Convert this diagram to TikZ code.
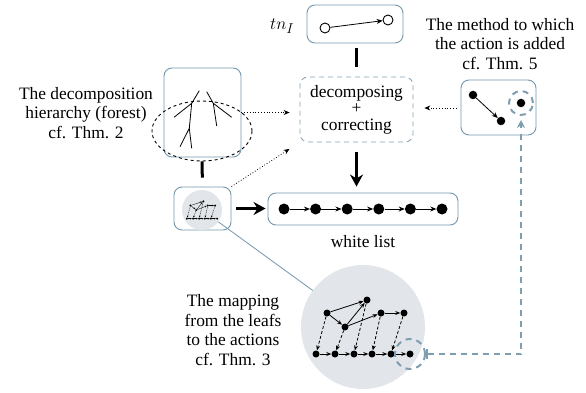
\documentclass[tikz,border=0pt]{standalone}
\usepackage{fontspec}
\setmainfont{Liberation Serif}
\usetikzlibrary{arrows.meta,shapes.geometric}
\definecolor{boxc}{RGB}{115,150,172}
\definecolor{fillc}{RGB}{226,230,234}
\definecolor{dashc}{RGB}{128,158,178}
\newcommand\mymapping[1]{%
  \node[mdot] (#1a) at (-36,-14) {};
  \node[mdot] (#1b) at (4,-27) {};
  \node[mdot] (#1c) at (-18,0) {};
  \node[mdot] (#1d) at (18,-14) {};
  \node[mdot] (#1e) at (41,-14) {};
  \foreach \i/\x in {1/-47,2/-28,3/-9,4/9,5/28,6/47} {\node[mdot] (#1l\i) at (\x,27) {};}
  \draw[marr] (#1a) -- (#1b);
  \draw[marr] (#1a) -- (#1c);
  \draw[marr] (#1c) -- (#1b);
  \draw[marr] (#1c) -- (#1d);
  \draw[marr] (#1d) -- (#1e);
  \foreach \i/\j in {1/2,2/3,3/4,4/5,5/6} {\draw[marr] (#1l\i) -- (#1l\j);}
  \draw[mdarr] (#1a) -- (#1l1);
  \draw[mdarr] (#1c) -- (#1l2);
  \draw[mdarr] (#1b) -- (#1l3);
  \draw[mdarr] (#1d) -- (#1l4);
  \draw[mdarr] (#1e) -- (#1l5);
}
\begin{document}
\begin{tikzpicture}[x=1pt,y=-1pt,
  font=\fontsize{17.4}{19.5}\selectfont,
  box/.style={draw=boxc, line width=0.9pt, rounded corners=8pt, inner sep=0pt},
  dot/.style={circle, fill=black, inner sep=0pt, minimum size=11pt},
  mdotb/.style={circle, fill=black, inner sep=0pt, minimum size=8.5pt},
  odot/.style={circle, draw=black, line width=0.9pt, inner sep=0pt, minimum size=10pt},
  smallarr/.style={line width=0.8pt, -{Stealth[length=6pt,width=5pt]}},
  dotarr/.style={dotted, line width=0.8pt, -{Stealth[length=6pt,width=5pt]}},
  thickbar/.style={line width=3pt},
  thickarr/.style={line width=2.6pt, -{Stealth[length=12pt,width=13pt]}},
  bluedash/.style={draw=dashc, line width=2pt, dash pattern=on 6pt off 5pt},
  mdot/.style={circle, fill=black, inner sep=0pt, minimum size=7pt},
  marr/.style={line width=0.8pt, -{Stealth[length=5pt,width=4pt]}},
  mdarr/.style={line width=0.8pt, dash pattern=on 3pt off 2pt, -{Stealth[length=5pt,width=4pt]}},
  treeline/.style={line width=0.8pt},
  lbl/.style={align=center, inner sep=0pt}
]
\useasboundingbox (0,0) rectangle (586,393);

% tn_I box
\node[box, minimum width=96pt, minimum height=38pt] (tn) at (355,24) {};
\node[odot] (o1) at (325,28) {};
\node[odot] (o2) at (388,20) {};
\draw[smallarr] (o1) -- (o2);
\node[inner sep=0pt, anchor=west] (tnl) at (270,26) {\fontsize{19}{21}\selectfont$tn_I$};

% decomposing box
\node[draw=dashc, line width=0.8pt, dash pattern=on 5pt off 4pt, rounded corners=8pt,
      minimum width=113pt, minimum height=65pt, inner sep=0pt, align=center] (dec) at (356.5,109.5)
      {decomposing\\[-3pt]+\\[-3pt]correcting};
\draw[thickbar, shorten <=5pt, shorten >=10pt] (tn.south -| dec.north) -- (dec.north);

% forest box
\node[box, minimum width=77pt, minimum height=89pt] (fbox) at (202.5,112.5) {};
\draw[treeline] (199.3,90.7) -- (191.7,103.3) -- (189.3,128.3) -- (180,146.7);
\draw[treeline] (191.7,103.3) -- (174,117.3);
\draw[treeline] (189.3,128.3) -- (191.7,148.3);
\draw[treeline] (206.7,91.7) -- (213.3,103.3) -- (216.7,126);
\draw[treeline] (213.3,103.3) -- (231.7,117.3);
\node[ellipse, draw=black, dashed, line width=0.9pt, minimum width=100pt, minimum height=60pt] (ell) at (202,131) {};
\node[lbl] (flbl) at (86,113) {The decomposition\\hierarchy (forest)\\cf. Thm. 2};

% small box with miniature
\node[box, minimum width=57pt, minimum height=43pt] (sbox) at (202.5,208.5) {};
\node[circle, fill=fillc, minimum size=40pt, inner sep=0pt] (scirc) at (202,210) {};
\begin{scope}[shift={(202,210)}, scale=0.32, transform shape,
  marr/.style={line width=0.35pt, -{Stealth[length=2pt,width=1.6pt]}},
  mdarr/.style={line width=0.35pt, dash pattern=on 1pt off 0.8pt, -{Stealth[length=2pt,width=1.6pt]}}]
  \mymapping{s}
\end{scope}
\draw[thickbar, shorten >=9pt] (ell.south) -- (sbox.north);

% white list
\node[box, minimum width=190pt, minimum height=32pt] (wl) at (363,209) {};
\foreach \i/\x in {1/284,2/315.6,3/347.2,4/378.8,5/410.4,6/442} {\node[dot] (w\i) at (\x,209) {};}
\foreach \i/\j in {1/2,2/3,3/4,4/5,5/6} {\draw[smallarr] (w\i) -- (w\j);}
\node (wlbl) at (363,242) {white list};
\draw[thickarr, shorten <=10pt, shorten >=6pt] (dec.south) -- (dec.south |- wl.north);
\draw[thickarr, shorten <=5pt, shorten >=2pt] (sbox.east) -- (sbox.east -| wl.west);

% method box
\node[box, minimum width=75pt, minimum height=55pt] (meth) at (498.5,107.5) {};
\node[mdotb] (m1) at (473,95) {};
\node[mdotb] (m2) at (501,121) {};
\node[mdotb] (m3) at (521,103) {};
\draw[smallarr] (m1) -- (m2);
\node[circle, bluedash, minimum size=24pt, inner sep=0pt] (mcirc) at (m3) {};
\node[lbl] (mlbl) at (500,44) {The method to which\\the action is added\\cf. Thm. 5};

% dotted arrows
\draw[dotarr, shorten <=4pt, shorten >=11pt] (meth.west |- 0,108) coordinate (mw) -- (dec.east |- mw);
\draw[dotarr, shorten >=10pt] (fbox.east) -- (dec.west |- fbox.east);
\draw[dotarr, shorten >=12pt] (sbox.north east) -- (dec.south west);

% big mapping circle
\node[circle, fill=fillc, minimum size=124pt, inner sep=0pt] (bcirc) at (363,327) {};
\draw[boxc, line width=0.8pt] (scirc) -- (bcirc);
\begin{scope}[shift={(363,327)}]
  \mymapping{b}
\end{scope}
\node[circle, bluedash, minimum size=30pt, inner sep=0pt] (lcirc) at (bl6) {};
\draw[bluedash, {Bar[width=10pt]}-{Stealth[length=8pt,width=8pt]}, shorten >=4pt] (lcirc.east) -| (mcirc.south);
\node[lbl] (plbl) at (233,330) {The mapping\\from the leafs\\to the actions\\cf. Thm. 3};
\end{tikzpicture}
\end{document}
